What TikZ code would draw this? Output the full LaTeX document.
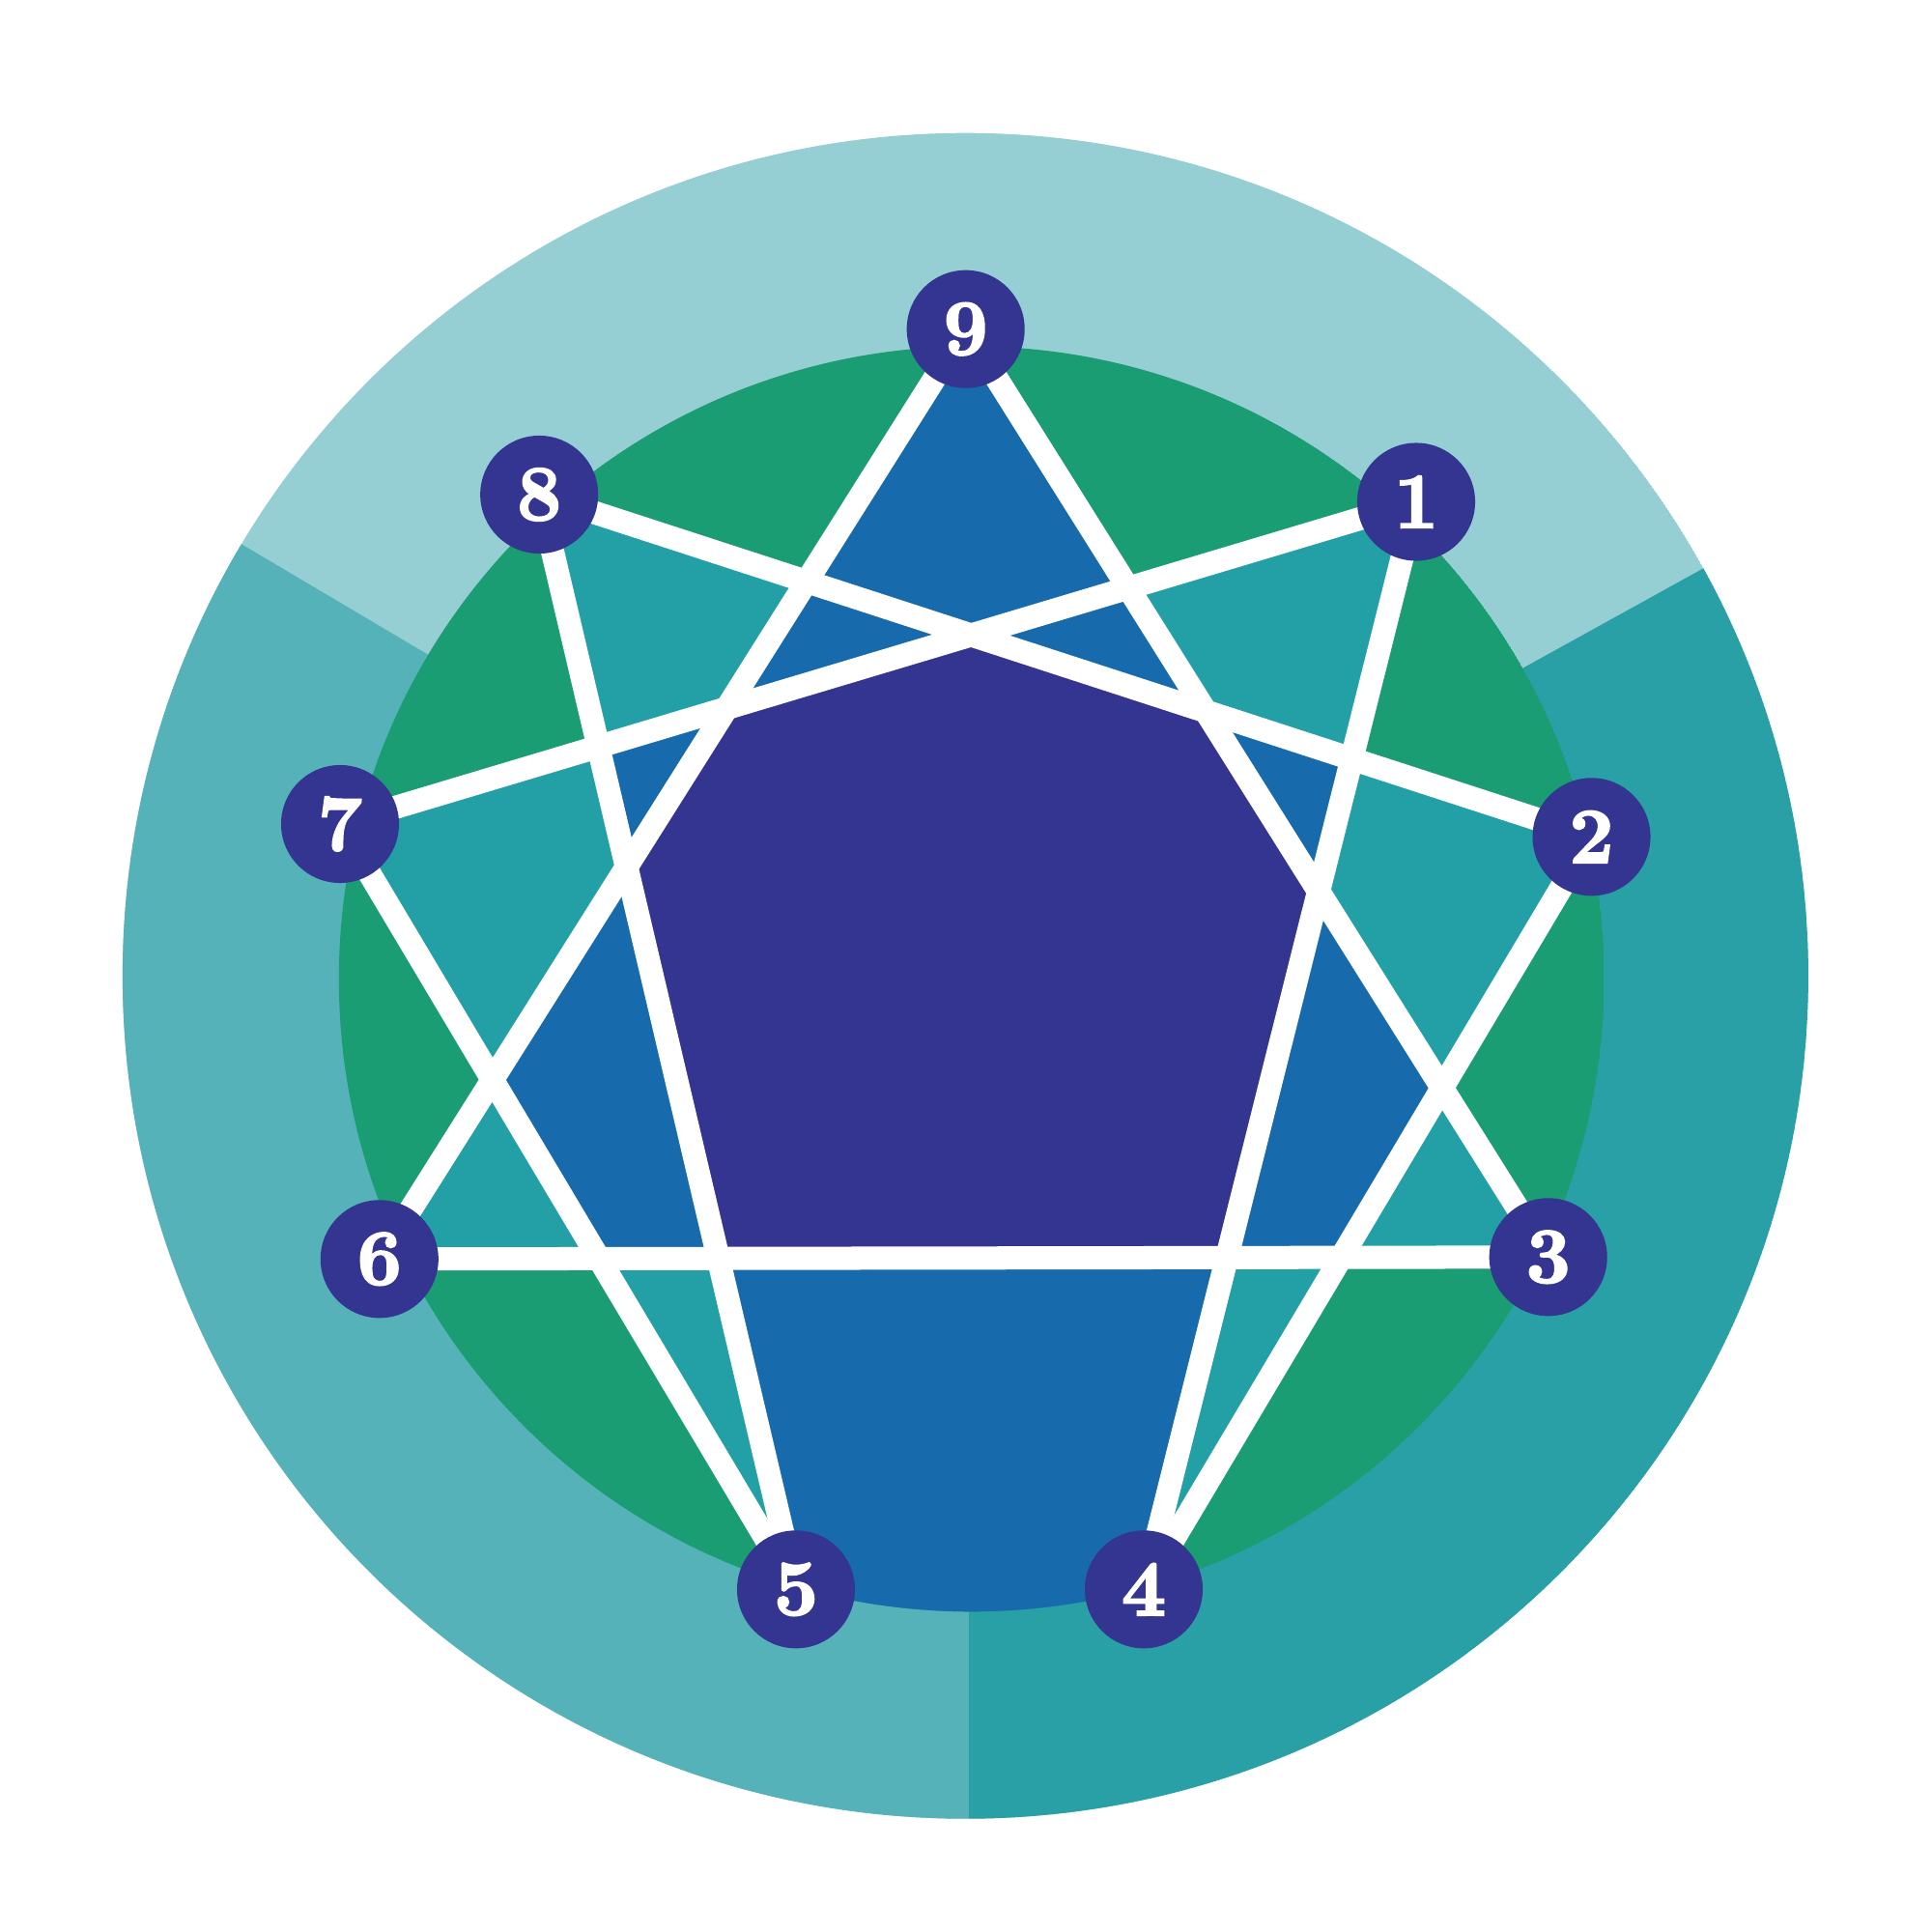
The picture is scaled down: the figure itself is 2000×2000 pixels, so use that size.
\documentclass[tikz,border=0pt]{standalone}
\usepackage{fontspec}
\newfontfamily\numfont[UprightFeatures={FakeBold=3},BoldFeatures={FakeBold=3}]{Latin Modern Roman}
\begin{document}
\begin{tikzpicture}[x=0.01cm,y=-0.01cm]
\definecolor{ringtop}{RGB}{149,206,211}
\definecolor{ringleft}{RGB}{85,178,185}
\definecolor{ringright}{RGB}{41,160,166}
\definecolor{cgreen}{RGB}{26,157,114}
\definecolor{cteal}{RGB}{35,160,165}
\definecolor{cblue}{RGB}{23,107,172}
\definecolor{cpurple}{RGB}{52,53,144}
\tikzset{
  wline/.style={white,line width=0.24cm},
  ptnode/.style={circle,fill=cpurple,text=white,minimum size=1.22cm,inner sep=0pt,
    font=\numfont\fontsize{23}{23}\selectfont\bfseries}
}
\useasboundingbox (0,0) rectangle (2000,2000);
\coordinate (oc) at (999.4,1010.2);
\coordinate (gc) at (1005.7,1013.4);
\coordinate (ap) at (1002.5,1009);
% enneagram points
\coordinate (p9) at (999.7,340.7);
\coordinate (p1) at (1466,519.5);
\coordinate (p2) at (1647.5,866.3);
\coordinate (p3) at (1602.7,1301.3);
\coordinate (p4) at (1184,1645.3);
\coordinate (p5) at (824,1645.3);
\coordinate (p6) at (392.8,1303.3);
\coordinate (p7) at (352,853);
\coordinate (p8) at (558.2,512);
% intersections
\coordinate (x96_28) at (intersection of p9--p6 and p2--p8);
\coordinate (x85_71) at (intersection of p8--p5 and p7--p1);
\coordinate (x57_96) at (intersection of p5--p7 and p9--p6);
\coordinate (x57_36) at (intersection of p5--p7 and p3--p6);
\coordinate (x42_36) at (intersection of p4--p2 and p3--p6);
\coordinate (x42_93) at (intersection of p4--p2 and p9--p3);
\coordinate (x14_28) at (intersection of p1--p4 and p2--p8);
\coordinate (x93_71) at (intersection of p9--p3 and p7--p1);
\coordinate (x71_28) at (intersection of p7--p1 and p2--p8);
\coordinate (x28_93) at (intersection of p2--p8 and p9--p3);
\coordinate (x93_14) at (intersection of p9--p3 and p1--p4);
\coordinate (x14_36) at (intersection of p1--p4 and p3--p6);
\coordinate (x85_36) at (intersection of p8--p5 and p3--p6);
\coordinate (x85_96) at (intersection of p8--p5 and p9--p6);
\coordinate (x96_71) at (intersection of p9--p6 and p7--p1);
% outer ring
\begin{scope}
  \clip (oc) circle[radius=8.72cm];
  \fill[ringtop] (oc) circle[radius=8.72cm];
  \fill[ringleft] (ap) -- (1002.5,2100) -- (-300,2100) -- (-300,237.6) -- cycle;
  \fill[ringright] (ap) -- (1002.5,2100) -- (2300,2100) -- (2300,291.6) -- cycle;
\end{scope}
% inner disc
\begin{scope}
  \clip (gc) circle[radius=6.545cm];
  \fill[cgreen] (gc) circle[radius=6.545cm];
  \fill[cteal] (p9) -- (x96_28) -- (p8) -- (x85_71) -- (p7) -- (x57_96) -- (p6)
     -- (x57_36) -- (p5) -- (824,1800) -- (1184,1800) -- (p4) -- (x42_36) -- (p3)
     -- (x42_93) -- (p2) -- (x14_28) -- (p1) -- (x93_71) -- cycle;
  \fill[cblue] (p9) -- (x42_93) -- (x42_36) -- (x57_36) -- (x57_96) -- cycle;
  \fill[cblue] (x71_28) -- (x14_28) -- (p4) -- (1184,1800) -- (824,1800) -- (p5)
     -- (x85_71) -- cycle;
  \fill[cpurple] (x71_28) -- (x28_93) -- (x93_14) -- (x14_36) -- (x85_36)
     -- (x85_96) -- (x96_71) -- cycle;
\end{scope}
% white lines
\draw[wline] (p9) -- (p3);
\draw[wline] (p3) -- (p6);
\draw[wline] (p6) -- (p9);
\draw[wline] (p1) -- (p4);
\draw[wline] (p4) -- (p2);
\draw[wline] (p2) -- (p8);
\draw[wline] (p8) -- (p5);
\draw[wline] (p5) -- (p7);
\draw[wline] (p7) -- (p1);
% point nodes
\node[ptnode] (n9) at (p9) {9};
\node[ptnode] (n1) at (p1) {1};
\node[ptnode] (n2) at (p2) {2};
\node[ptnode] (n3) at (p3) {3};
\node[ptnode] (n4) at (p4) {4};
\node[ptnode] (n5) at (p5) {5};
\node[ptnode] (n6) at (p6) {6};
\node[ptnode] (n7) at (p7) {7};
\node[ptnode] (n8) at (p8) {8};
\end{tikzpicture}
\end{document}
